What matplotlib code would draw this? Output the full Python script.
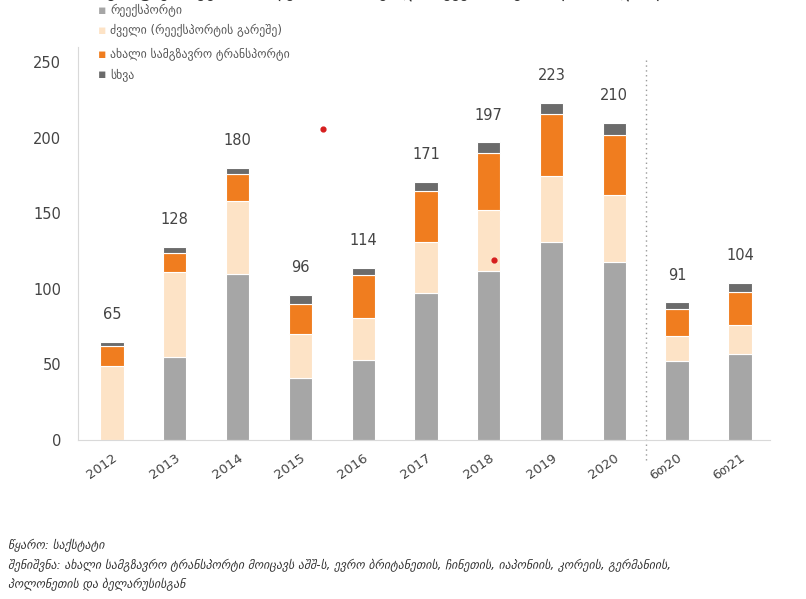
import numpy as np
import matplotlib.pyplot as plt

# values, millions USD
periods = ["2012", "2013", "2014", "2015", "2016", "2017", "2018", "2019", "2020", "6თ20", "6თ21"]
reexport = [0, 55, 110, 41, 53, 97, 112, 131, 118, 52, 57]
used_cars = [49, 56, 48, 29, 28, 34, 40, 44, 44, 17, 19]
new_cars = [13, 13, 18, 20, 28, 34, 38, 41, 40, 18, 22]
other = [3, 4, 4, 6, 5, 6, 7, 7, 8, 4, 6]
totals = [65, 128, 180, 96, 114, 171, 197, 223, 210, 91, 104]

series_names = ["რეექსპორტი", "ძველი (რეექსპორტის გარეშე)",
                "ახალი სამგზავრო ტრანსპორტი", "სხვა"]
colors = ["#a6a6a6", "#fde3c6", "#f07d1f", "#6b6b6b"]

plt.rcParams['font.family'] = ['DejaVu Sans']

fig = plt.figure(figsize=(8.06, 5.99), dpi=100)
ax = fig.add_axes([0.0968, 0.2654, 0.8586, 0.656])

x = np.arange(len(periods))
w = 0.37
bottom = np.zeros(len(periods))
for vals, col, name in zip([reexport, used_cars, new_cars, other], colors, series_names):
    ax.bar(x, vals, w, bottom=bottom, color=col, edgecolor="white", linewidth=0.8, label=name)
    bottom += np.array(vals)

for xi, t in zip(x, totals):
    ax.text(xi, t + 13, str(t), ha="center", va="bottom", fontsize=10.5, color="#444444")

# separator between annual and half-year data
ax.plot([8.5, 8.5], [-13, 253], linestyle=(0, (1, 2.5)), color="#999999", lw=1, clip_on=False)

# stray red markers
ax.scatter([3.36, 6.08], [206, 119], s=12, color="#d61f1f", zorder=5)

ax.set_xlim(-0.54, 10.48)
ax.set_ylim(0, 260)
ax.set_yticks([0, 50, 100, 150, 200, 250])
ax.set_xticks(x)
ax.set_xticklabels(periods, rotation=35, ha="right", rotation_mode="anchor",
                   fontsize=9.5, color="#444444")
ax.tick_params(axis="y", labelsize=10.5, colors="#444444", length=0, pad=12)
ax.tick_params(axis="x", length=0, pad=8)
for s in ["top", "right"]:
    ax.spines[s].set_visible(False)
for s in ["left", "bottom"]:
    ax.spines[s].set_color("#d9d9d9")

# legend as marker + text list above the plot
leg_y = [0.983, 0.949, 0.909, 0.876]
for yy, col, name in zip(leg_y, colors, series_names):
    fig.text(0.127, yy, "▪", color=col, fontsize=9, va="center", ha="center")
    fig.text(0.137, yy, name, color="#555555", fontsize=8.5, va="center", ha="left")

fig.text(0.5, 0.999, "გრაფიკი: ავტომობილების იმპორტი და რეექსპორტი (მლნ. აშშ დოლარი)",
         ha="center", va="bottom", fontsize=12, color="#333333")

fig.text(0.01, 0.083, "წყარო: საქსტატი", fontsize=8.5, style="italic", color="#333333")
fig.text(0.01, 0.050, "შენიშვნა: ახალი სამგზავრო ტრანსპორტი მოიცავს აშშ-ს, ევრო ბრიტანეთის, ჩინეთის, იაპონიის, კორეის, გერმანიის,",
         fontsize=8.5, style="italic", color="#333333")
fig.text(0.01, 0.019, "პოლონეთის და ბელარუსისგან", fontsize=8.5, style="italic", color="#333333")

fig.savefig("out.png", dpi=100)
